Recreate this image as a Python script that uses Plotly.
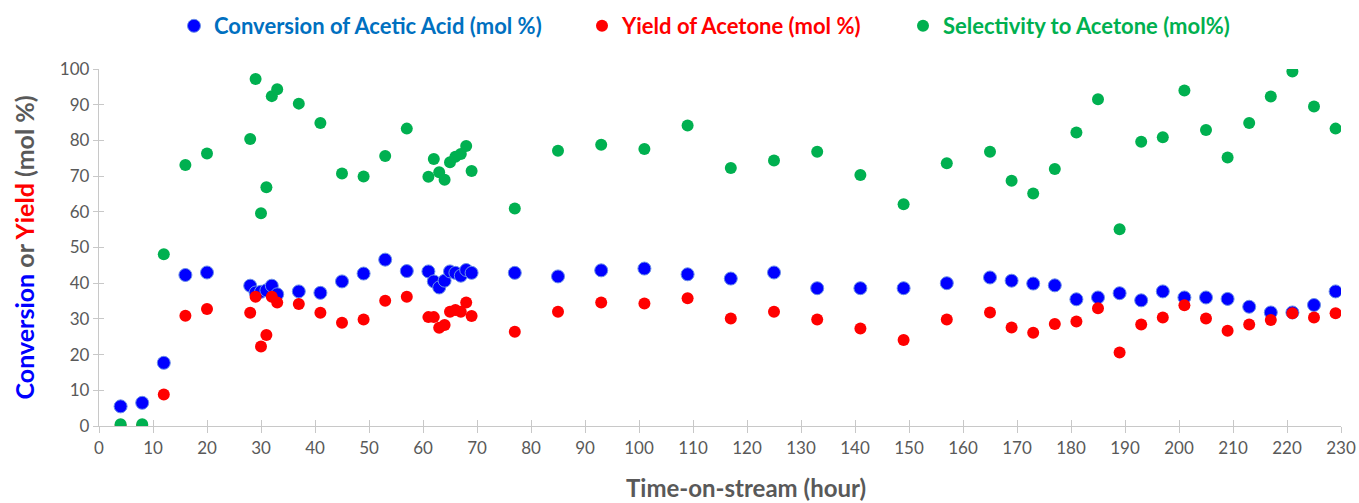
import plotly.graph_objects as go

time_h = [4, 8, 12, 16, 20, 28, 29, 30, 31, 32, 33, 37, 41, 45, 49, 53, 57,
          61, 62, 63, 64, 65, 66, 67, 68, 69, 77, 85, 93, 101, 109, 117, 125,
          133, 141, 149, 157, 165, 169, 173, 177, 181, 185, 189, 193, 197,
          201, 205, 209, 213, 217, 221, 225, 229]

conversion = [5.5, 6.5, 17.7, 42.3, 43.0, 39.3, 37.4, 37.6, 38.0, 39.3, 36.9, 37.7, 37.3,
              40.5, 42.7, 46.6, 43.4, 43.3, 40.5, 38.8, 40.7, 43.3, 42.9, 42.1, 43.7, 42.9,
              42.9, 41.9, 43.6, 44.1, 42.5, 41.3, 43.0, 38.6, 38.6, 38.6, 40.0, 41.6, 40.7,
              39.9, 39.4, 35.5, 36.0, 37.2, 35.2, 37.7, 36.0, 36.0, 35.6, 33.4, 31.8, 31.8,
              33.9, 37.7]

yield_acetone = [0.0, 0.0, 8.8, 30.9, 32.8, 31.7, 36.2, 22.3, 25.5, 36.2, 34.6, 34.2, 31.7,
                 28.9, 29.8, 35.1, 36.2, 30.5, 30.5, 27.5, 28.3, 32.0, 32.5, 32.0, 34.6, 30.8,
                 26.4, 32.0, 34.6, 34.3, 35.8, 30.1, 32.0, 29.8, 27.3, 24.1, 29.8, 31.8, 27.6,
                 26.1, 28.6, 29.3, 33.0, 20.6, 28.4, 30.4, 33.8, 30.1, 26.7, 28.4, 29.7, 31.6,
                 30.4, 31.6]

selectivity = [0.5, 0.5, 48.1, 73.1, 76.3, 80.4, 97.2, 59.6, 66.9, 92.4, 94.3, 90.3, 84.9,
               70.7, 69.9, 75.6, 83.3, 69.8, 74.8, 71.1, 69.0, 73.9, 75.4, 76.2, 78.4, 71.4,
               60.9, 77.1, 78.8, 77.6, 84.2, 72.3, 74.4, 76.8, 70.3, 62.1, 73.6, 76.8, 68.7,
               65.1, 72.0, 82.2, 91.5, 55.1, 79.6, 80.9, 94.0, 82.9, 75.2, 84.9, 92.3, 99.3,
               89.5, 83.3]

x_ticks = list(range(0, 231, 10))
y_ticks = list(range(0, 101, 10))

FONT = "Lato"
GRAY = "#595959"
AXIS = "#C8C8C8"

W, H = 1359, 503
L, R, T, B = 99, 18, 69, 77

fig = go.Figure()
fig.add_trace(go.Scatter(
    x=time_h, y=conversion, mode="markers",
    name="<span style='color:#0070C0'><b>Conversion of Acetic Acid (mol %)</b></span>",
    marker=dict(color="#0000FF", size=13, line=dict(width=1, color="#6B8FE8")),
    legend="legend"))
fig.add_trace(go.Scatter(
    x=time_h, y=yield_acetone, mode="markers",
    name="<span style='color:#FF0000'><b>Yield of Acetone (mol %)</b></span>",
    marker=dict(color="#FF0000", size=12, line=dict(width=0)),
    legend="legend2"))
fig.add_trace(go.Scatter(
    x=time_h, y=selectivity, mode="markers",
    name="<span style='color:#00B050'><b>Selectivity to Acetone (mol%)</b></span>",
    marker=dict(color="#00B050", size=12, line=dict(width=0)),
    legend="legend3"))
# empty trace only to activate the overlay axes that draw the inner half of the cross ticks
fig.add_trace(go.Scatter(x=[], y=[], xaxis="x2", yaxis="y2", showlegend=False,
                         hoverinfo="skip"))

leg_common = dict(orientation="h", yref="container", xref="container",
                  y=1 - 26 / H, yanchor="middle", xanchor="left",
                  font=dict(family=FONT, size=22), bgcolor="rgba(0,0,0,0)",
                  borderwidth=0)

fig.update_layout(
    width=W, height=H,
    paper_bgcolor="white", plot_bgcolor="white",
    margin=dict(l=L, r=R, t=T, b=B),
    font=dict(family=FONT, color=GRAY, size=17),
    showlegend=True,
    legend=dict(leg_common, x=174 / W),
    legend2=dict(leg_common, x=582 / W),
    legend3=dict(leg_common, x=903 / W),
    xaxis=dict(range=[0, 230], tickmode="array", tickvals=x_ticks,
               ticktext=[str(v) for v in x_ticks], automargin=False,
               ticklabeloverflow="allow",
               showgrid=False, zeroline=False, showline=True,
               linecolor=AXIS, linewidth=1.3,
               ticks="outside", ticklen=6, tickcolor=AXIS, tickwidth=1.3,
               tickfont=dict(size=17, color=GRAY, family=FONT)),
    yaxis=dict(range=[0, 100], tickmode="array", tickvals=y_ticks,
               ticktext=[str(v) for v in y_ticks], automargin=False,
               ticklabeloverflow="allow",
               showgrid=False, zeroline=False, showline=True,
               linecolor=AXIS, linewidth=1.3,
               ticks="outside", ticklen=5, tickcolor=AXIS, tickwidth=1.3,
               tickfont=dict(size=17, color=GRAY, family=FONT)),
    xaxis2=dict(overlaying="x", matches="x", anchor="y2", tickmode="array",
                tickvals=x_ticks, showticklabels=False, showgrid=False,
                zeroline=False, showline=False, ticks="inside", ticklen=6,
                tickcolor=AXIS, tickwidth=1.3),
    yaxis2=dict(overlaying="y", matches="y", anchor="x2", tickmode="array",
                tickvals=y_ticks, showticklabels=False, showgrid=False,
                zeroline=False, showline=False, ticks="inside", ticklen=5,
                tickcolor=AXIS, tickwidth=1.3),
    annotations=[
        dict(text="<b>Time-on-stream (hour)</b>", xref="paper", yref="paper",
             x=(746 - L) / (W - L - R), y=(H - B - 487) / (H - T - B),
             xanchor="center", yanchor="middle", showarrow=False,
             font=dict(size=24, color=GRAY, family=FONT)),
        dict(text="<b><span style='color:#0000FF'>Conversion</span> or "
                  "<span style='color:#FF0000'>Yield</span> (mol %)</b>",
             xref="paper", yref="paper", textangle=-90,
             x=(23 - L) / (W - L - R), y=0.5,
             xanchor="center", yanchor="middle", showarrow=False,
             font=dict(size=25, color=GRAY, family=FONT)),
    ],
)

fig.write_html("out.html")
